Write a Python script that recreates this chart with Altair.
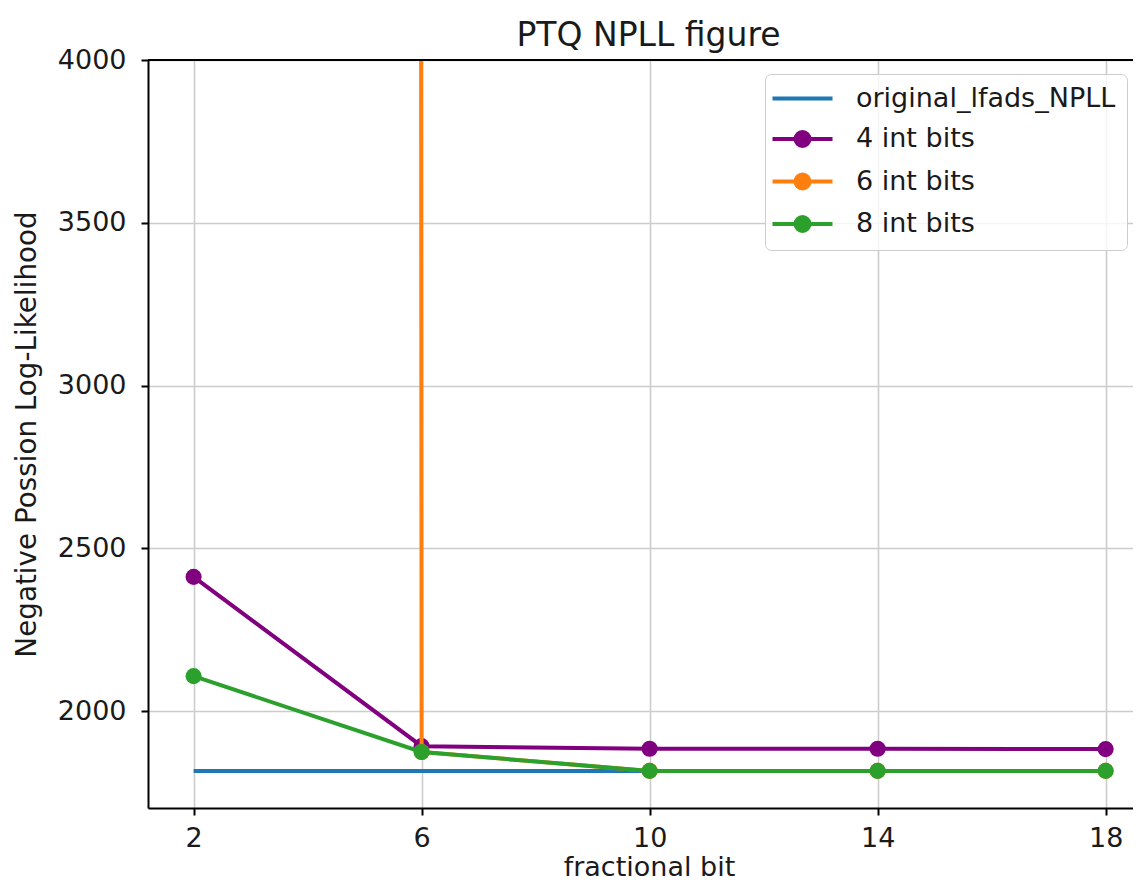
import altair as alt
import pandas as pd

# ---- data ----
frac_bits = [2, 6, 10, 14, 18]
original_npll = [1816, 1816, 1816, 1816, 1816]
int4_npll = [2412, 1892, 1884, 1884, 1883]
int6_npll = [1000000, 1874, 1816, 1816, 1816]   # first value far above the axis top
int8_npll = [2107, 1874, 1816, 1816, 1816]

series_names = ["original_lfads_NPLL", "4 int bits", "6 int bits", "8 int bits"]
series_colors = ["#1f77b4", "#800080", "#ff7f0e", "#2ca02c"]
series_markers = [False, True, True, True]
y_ticks = [2000, 2500, 3000, 3500, 4000]
x_ticks = [2, 6, 10, 14, 18]

rows = []
for name, vals in zip(series_names, [original_npll, int4_npll, int6_npll, int8_npll]):
    for xb, v in zip(frac_bits, vals):
        rows.append({"bit": xb, "npll": v, "series": name})
df = pd.DataFrame(rows)

FONT = "DejaVu Sans"
TEXT = "#1a1a1a"

# legend symbols: a line, or a line with a solid dot (drawn with concentric rings)
line_path = "M-3,0H3"
dot = "".join(f"M-{r},0A{r},{r},0,1,1,{r},0A{r},{r},0,1,1,-{r},0Z" for r in ["0.7", "0.5", "0.3", "0.1"])
marker_path = line_path + dot
legend_shapes = [marker_path if m else line_path for m in series_markers]

color_by_name = dict(zip(series_names, series_colors))
sorted_names = sorted(series_names)

x_enc = alt.X(
    "bit:Q",
    scale=alt.Scale(domain=[1.2, 18.48], nice=False, zero=False),
    axis=alt.Axis(values=x_ticks, title="fractional bit", labelPadding=10,
                  titleX=501, titleY=67, titleBaseline="alphabetic", titleAlign="center"),
)
y_axis = alt.Axis(values=y_ticks, format="d", title="Negative Possion Log-Likelihood",
                  labelPadding=15, titleAngle=270, titleX=-121, titleY=374,
                  titleBaseline="middle", titleAlign="center", titleFontSize=27.8)
y_scale = alt.Scale(domain=[1702, 4000], nice=False, zero=False)
y_enc = alt.Y("npll:Q", scale=y_scale, axis=y_axis)

# colours of the drawn series (no legend from these)
color_enc = alt.Color(
    "series:N",
    scale=alt.Scale(range=[color_by_name[n] for n in sorted_names]),
    legend=None,
)

legend_def = alt.Legend(
    title=None, orient="none", legendX=617, legendY=14,
    labelFont=FONT, labelFontSize=27, labelColor=TEXT, labelLimit=500,
    padding=11, rowPadding=11.5, symbolSize=400, symbolStrokeWidth=4,
    symbolOffset=13, labelOffset=40, symbolOpacity=1,
    fillColor="rgba(255,255,255,0.8)", strokeColor="#cccccc", cornerRadius=6,
)

base = alt.Chart(df).encode(x=x_enc, y=y_enc)

# invisible layer that only provides the legend
legend_layer = base.transform_filter(alt.datum.bit == frac_bits[0]).mark_point(
    filled=False, strokeWidth=4, opacity=0, clip=True
).encode(
    stroke=alt.Stroke("series:N", scale=alt.Scale(domain=series_names, range=series_colors), legend=legend_def),
    shape=alt.Shape("series:N", scale=alt.Scale(domain=series_names, range=legend_shapes), legend=legend_def),
)

layers = [legend_layer]
for name, has_marker in zip(series_names, series_markers):
    sub = base.encode(color=color_enc).transform_filter(alt.datum.series == name)
    layers.append(sub.mark_line(strokeWidth=4, clip=True))
    if has_marker:
        layers.append(sub.mark_circle(size=260, opacity=1, clip=True))

top_df = pd.DataFrame({"npll": [y_ticks[-1]]})
top_spine = alt.Chart(top_df).mark_rule(color="black", strokeWidth=2).encode(y=y_enc)
layers.append(top_spine)

chart = alt.layer(*layers).properties(
    width=985, height=748,
    padding={"left": 140, "top": 52, "right": 0, "bottom": 74},
    autosize=alt.AutoSizeParams(type="none"),
    title=alt.Title("PTQ NPLL figure", font=FONT, fontSize=33, fontWeight="normal",
                    color=TEXT, frame="group", offset=14, dx=8, dy=21),
).configure_view(stroke=None).configure_axis(
    domainColor="black", domainWidth=2, tickColor="black", tickWidth=2, tickSize=7,
    gridColor="#cccccc", gridWidth=1.6,
    labelFont=FONT, labelFontSize=27, labelColor=TEXT,
    titleFont=FONT, titleFontSize=27, titleColor=TEXT, titleFontWeight="normal",
)

chart.save("out.html", embed_options={"renderer": "svg", "actions": False})
